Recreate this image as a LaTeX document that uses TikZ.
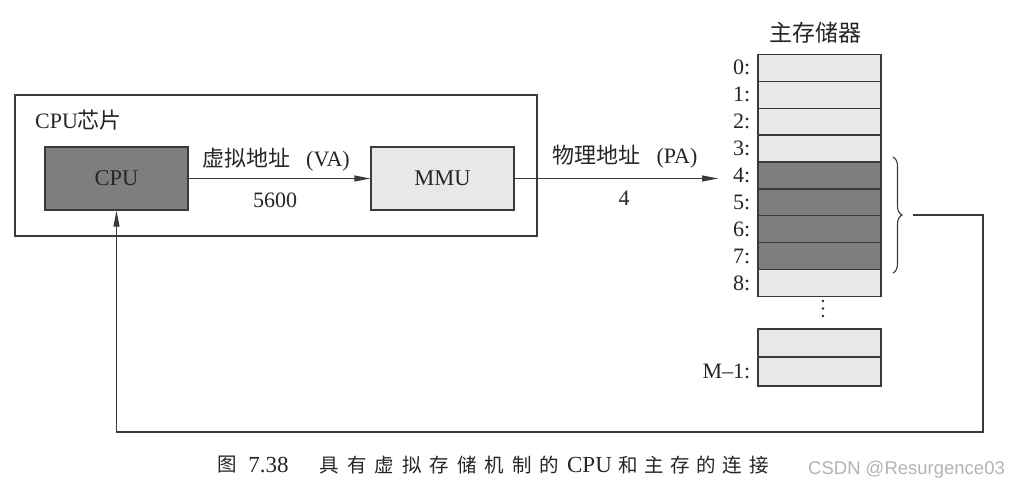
\documentclass[tikz,border=0pt]{standalone}
\usepackage{fontspec}
\setmainfont{Liberation Serif}
\newfontfamily\cjk{Noto Sans CJK SC}
\newfontfamily\wmfont{Liberation Sans}
\usetikzlibrary{arrows.meta,decorations.pathreplacing}
\definecolor{linec}{HTML}{3A3A3A}
\definecolor{darkfill}{HTML}{7E7E7E}
\definecolor{lightfill}{HTML}{E8E8E8}
\definecolor{txt}{HTML}{262626}
\definecolor{wmgray}{HTML}{B4B4B4}
\newcommand\ck{\kern8pt}
\newcommand\cj{\kern6.6pt}
\begin{document}
\begin{tikzpicture}[x=1pt,y=-1pt,
  lat/.style={font=\fontsize{22}{26}\selectfont, text=txt, inner sep=0pt},
  cjklab/.style={font=\fontsize{22}{26}\selectfont\cjk, text=txt, inner sep=0pt},
  unit/.style={draw=linec, line width=1.3pt, inner sep=0pt, minimum width=143pt, minimum height=63pt, font=\fontsize{22.5}{26}\selectfont, text=txt},
  cell/.style={draw=linec, line width=1.2pt, inner sep=0pt, minimum width=123pt, minimum height=26.93pt},
  arr/.style={draw=linec, line width=1.1pt, -{Triangle[length=16pt,width=6pt]}},
  capcjk/.style={font=\fontsize{19.5}{22}\selectfont\cjk, text=txt, inner sep=0pt},
  caplat/.style={font=\fontsize{23}{26}\selectfont, text=txt, inner sep=0pt},
  dot/.style={fill=txt}
]
\useasboundingbox (0,0) rectangle (1009,491);
\fill[white] (0,0) rectangle (1009,491);

% CPU chip
\node[draw=linec, line width=1.3pt, inner sep=0pt, minimum width=522pt, minimum height=141pt] (chip) at (276,165.5) {};
\node[lat, anchor=west] (chiplab) at (35,120) {CPU{\cjk 芯片}};

\node[unit, fill=darkfill] (cpu) at (116.5,178.5) {CPU};
\node[unit, fill=lightfill] (mmu) at (442.5,178.5) {MMU};

\draw[arr] (cpu.east) -- (mmu.west);
\node[lat] (valab) at (276,160) {{\cjk 虚拟地址}\hspace{16pt}(VA)};
\node[lat] (vanum) at (275,200) {5600};

% memory
\node[cjklab, font=\fontsize{23}{26}\selectfont\cjk] (memtitle) at (815,33) {主存储器};
\foreach \i in {0,...,8}{
  \pgfmathsetmacro{\yy}{54.3+26.93*(\i+0.5)}
  \ifnum\i>3 \ifnum\i<8
    \node[cell, fill=darkfill] (r\i) at (819.5,\yy) {};
  \else
    \node[cell, fill=lightfill] (r\i) at (819.5,\yy) {};
  \fi\else
    \node[cell, fill=lightfill] (r\i) at (819.5,\yy) {};
  \fi
  \node[lat, anchor=east] (l\i) at ([xshift=-7pt]r\i.west) {\i:};
}
\fill[dot] (823,301) circle (1.4);
\fill[dot] (823,308.5) circle (1.4);
\fill[dot] (823,316) circle (1.4);
\node[cell, fill=lightfill, minimum height=28pt] (m1) at (819.5,343) {};
\node[cell, fill=lightfill, minimum height=29pt] (m2) at (819.5,371.5) {};
\node[lat, anchor=east] (lm) at ([xshift=-7pt]m2.west) {M\textendash 1:};

% MMU -> memory
\coordinate (pa) at (718,178.5);
\draw[arr] (mmu.east) -- (pa);
\node[lat] (palab) at (625,157) {{\cjk 物理地址}\hspace{16pt}(PA)};
\node[lat] (panum) at (624,198) {4};

% brace and feedback
\coordinate (bt) at (893,157);
\coordinate (bb) at (893,273);
\draw[linec, line width=1.1pt, decorate, decoration={brace, amplitude=9pt}] (bt) -- (bb);
\coordinate (f0) at (913,215);
\coordinate (f1) at (983,215);
\coordinate (f2) at (983,432);
\draw[arr] (f0) -- (f1) -- (f2) -- (f2 -| cpu.south) -- (cpu.south);

% caption
\node[capcjk] (c1) at (227.5,465) {图};
\node[caplat] (c2) at (268.5,465) {7.38};
\node[capcjk] (c3) at (439.5,465) {具\ck 有\ck 虚\ck 拟\ck 存\ck 储\ck 机\ck 制\ck 的};
\node[caplat] (c4) at (589.5,465) {CPU};
\node[capcjk] (c5) at (693.5,465) {和\cj 主\cj 存\cj 的\cj 连\cj 接};

% watermark
\node[font=\fontsize{18.5}{22}\selectfont\wmfont, text=wmgray, inner sep=0pt, anchor=west] (wm) at (808,470) {CSDN @Resurgence03};
\end{tikzpicture}
\end{document}
